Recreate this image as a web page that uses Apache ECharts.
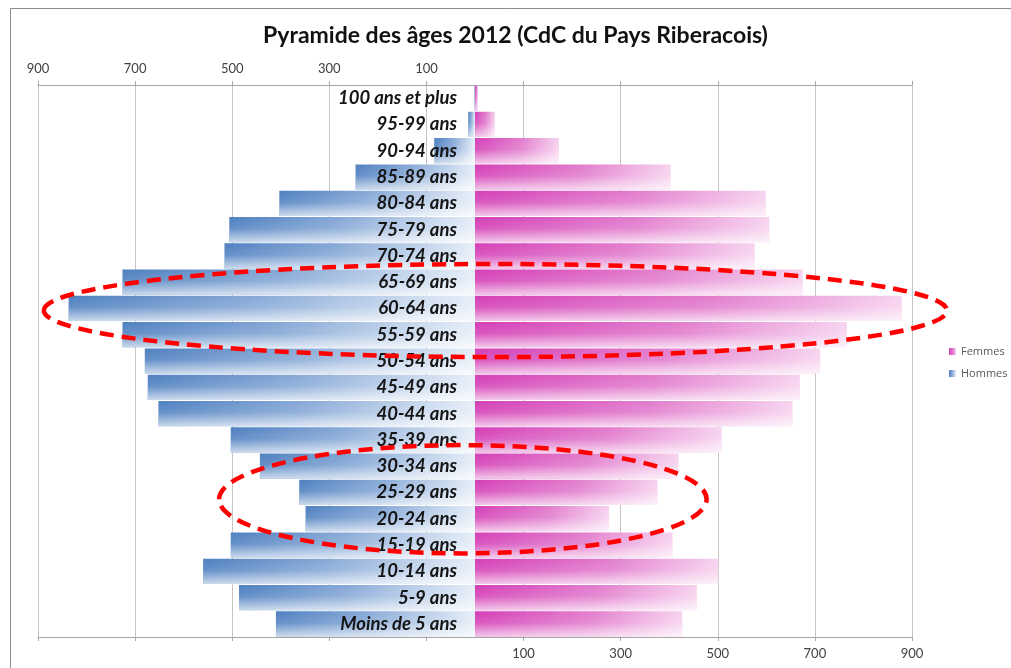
<!DOCTYPE html>
<html><head><meta charset="utf-8">
<script src="https://cdn.jsdelivr.net/npm/echarts@6/dist/echarts.min.js"></script>
<style>html,body{margin:0;padding:0;background:#fff}#c{width:1011px;height:668px}</style>
</head><body><div id="c"></div>
<script>
const titleText = 'Pyramide des âges 2012 (CdC du Pays Riberacois)';
const categories = ['100 ans et plus','95-99 ans','90-94 ans','85-89 ans','80-84 ans','75-79 ans','70-74 ans','65-69 ans','60-64 ans','55-59 ans','50-54 ans','45-49 ans','40-44 ans','35-39 ans','30-34 ans','25-29 ans','20-24 ans','15-19 ans','10-14 ans','5-9 ans','Moins de 5 ans'];
const hommes = [1,14,84,246,403,506,516,726,837,726,680,674,652,503,443,362,349,503,560,486,410];
const femmes = [6,41,173,403,599,606,576,675,879,766,711,669,654,508,419,376,276,407,501,457,427];
const axisMin = -900, axisMax = 900, axisStep = 200;

const chart = echarts.init(document.getElementById('c'), null, {renderer:'canvas'});
const blueGrad = new echarts.graphic.LinearGradient(0,0,1,0,[
  {offset:0,color:'#4f80c0'},{offset:0.45,color:'#86a8d6'},{offset:1,color:'#e6eef8'}]);
const pinkGrad = new echarts.graphic.LinearGradient(0,0,1,0,[
  {offset:0,color:'#d43fb6'},{offset:0.55,color:'#e27ccd'},{offset:1,color:'#f7d3ef'}]);
const shade = new echarts.graphic.LinearGradient(0,0,0,1,[
  {offset:0,color:'rgba(255,255,255,0)'},{offset:0.45,color:'rgba(255,255,255,0.12)'},{offset:1,color:'rgba(255,255,255,0.7)'}]);

const GRID_LEFT = 38;
const xCommon = {
  type:'value', min:axisMin, max:axisMax, interval:axisStep,
  axisLine:{show:true,lineStyle:{color:'#a6a6a6'}},
  axisTick:{show:true,length:4,lineStyle:{color:'#a6a6a6'}},
};
const barCommon = {type:'bar', xAxisIndex:0, barGap:'-100%', barCategoryGap:'4%'};
chart.setOption({
  backgroundColor:'#ffffff',
  animation:false,
  grid:{left:GRID_LEFT,right:99,top:85,bottom:31,containLabel:false,outerBoundsMode:'none'},
  legend:{
    orient:'vertical', left:944, top:341, itemWidth:7, itemHeight:7, itemGap:11,
    icon:'rect', data:['Femmes','Hommes'],
    textStyle:{fontFamily:'Open Sans',fontSize:11,color:'#595959'}
  },
  xAxis:[
    Object.assign({}, xCommon, {position:'top',
      axisLabel:{margin:10,fontFamily:'Lato',fontSize:13,color:'#404040',
        formatter:v=> v<0 ? String(-v) : ''},
      splitLine:{show:true,lineStyle:{color:'#c4c4c4'}}}),
    Object.assign({}, xCommon, {position:'bottom',
      axisLabel:{margin:10,fontFamily:'Lato',fontSize:13,color:'#404040',
        formatter:v=> v>0 ? String(v) : ''},
      splitLine:{show:false}})
  ],
  yAxis:{
    type:'category', data:categories, inverse:true, z:10, position:'left', offset:0,
    axisLine:{show:false,onZero:false}, axisTick:{show:false},
    axisLabel:{margin:18,fontFamily:'Lato',fontWeight:'bold',fontStyle:'italic',fontSize:18.5,color:'#151515'}
  },
  series:[
    Object.assign({name:'Hommes',data:hommes.map(v=>-v),itemStyle:{color:blueGrad}}, barCommon),
    Object.assign({name:'Femmes',data:femmes,itemStyle:{color:pinkGrad}}, barCommon),
    Object.assign({name:'shadeH',data:hommes.map(v=>-v),silent:true,itemStyle:{color:shade}}, barCommon),
    Object.assign({name:'shadeF',data:femmes,silent:true,itemStyle:{color:shade}}, barCommon)
  ]
});

function px(x, idx){ return chart.convertToPixel({gridIndex:0},[x, idx]); }
// place the category labels at the zero line of the value axis
const zeroX = px(0,0)[0];
chart.setOption({yAxis:{offset:-(zeroX-GRID_LEFT)}});

// annotation ellipses (drawn in data space)
const band = px(0,1)[1]-px(0,0)[1];
function ell(cx, rxVal, catIdx, rowOffset, ryRows){
  const c = px(cx, catIdx); const r = px(cx+rxVal, catIdx);
  return {type:'ellipse', z:100, silent:true,
    shape:{cx:c[0], cy:c[1]+rowOffset*band, rx:r[0]-c[0], ry:ryRows*band},
    style:{fill:null, stroke:'#ff0000', lineWidth:4.5, lineDash:[14,8]}};
}
chart.setOption({graphic:[
  {type:'rect', z:-1, silent:true, shape:{x:10.5,y:8.5,width:1100,height:700},
   style:{fill:null,stroke:'#8c8c8c',lineWidth:1}},
  {type:'text', z:50, x:515.5, y:36, style:{text:titleText, fontFamily:'Lato', fontWeight:'bold',
    fontSize:23, fill:'#111', align:'center', verticalAlign:'middle'}},
  ell(42, 930, 8, 0.08, 1.77),
  ell(-25, 502, 15, 0.26, 2.06)
]});
</script></body></html>
